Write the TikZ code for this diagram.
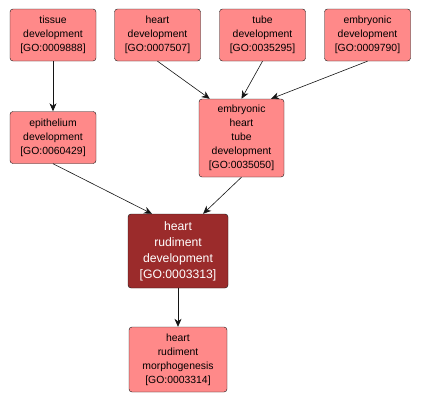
\documentclass[tikz,border=0pt]{standalone}
\usepackage{fontspec}
\setmainfont{Liberation Sans}
\usepackage{xcolor}
\usepackage{tikz}
\usetikzlibrary{arrows.meta}
\definecolor{termfill}{RGB}{255,137,137}
\definecolor{focusfill}{RGB}{155,43,43}
\definecolor{edgeline}{RGB}{20,20,20}
\tikzset{
  term/.style  ={draw=edgeline, fill=termfill, rounded corners=3pt, align=center,
                 font=\fontsize{10.4}{14}\selectfont, inner sep=0pt,
                 minimum width=86pt, minimum height=52pt},
  focus/.style ={term, fill=focusfill, text=white, font=\fontsize{12.2}{16}\selectfont,
                 minimum width=100pt, minimum height=74pt},
  isa/.style   ={-{Stealth[length=8pt,width=7pt,inset=2.5pt]}, draw=edgeline, line width=0.6pt},
}
\begin{document}
\begin{tikzpicture}[x=1pt,y=-1pt]
\useasboundingbox (0,0) rectangle (421,402);

% top row
\node[term] (tissue)   at (53,35)    {tissue\\development\\{[GO:0009888]}};
\node[term] (heartdev) at (157.5,35) {heart\\development\\{[GO:0007507]}};
\node[term] (tubedev)  at (262.5,35) {tube\\development\\{[GO:0035295]}};
\node[term] (embryo)   at (367.5,35) {embryonic\\development\\{[GO:0009790]}};

% middle row
\node[term] (epith) at (53,137.5) {epithelium\\development\\{[GO:0060429]}};
\node[term,minimum width=85pt,minimum height=78pt] (eht) at (241.5,138)
   {embryonic\\heart\\tube\\development\\{[GO:0035050]}};

% focus term and child
\node[focus] (rudiment) at (178,251) {heart\\rudiment\\development\\{[GO:0003313]}};
\node[term,minimum width=98pt,minimum height=65pt] (morph) at (178,359.5)
   {heart\\rudiment\\morphogenesis\\{[GO:0003314]}};

% is-a edges
\draw[isa] (tissue.south) -- (epith.north);
\draw[isa] (heartdev.south) -- (eht.129);
\draw[isa] (tubedev.south) -- (eht.90);
\draw[isa] (embryo.south) -- (eht.53);
\draw[isa] (epith.south) -- (rudiment.125);
\draw[isa] (eht.south) -- (rudiment.56);
\draw[isa] (rudiment.south) -- (morph.north);
\end{tikzpicture}
\end{document}
